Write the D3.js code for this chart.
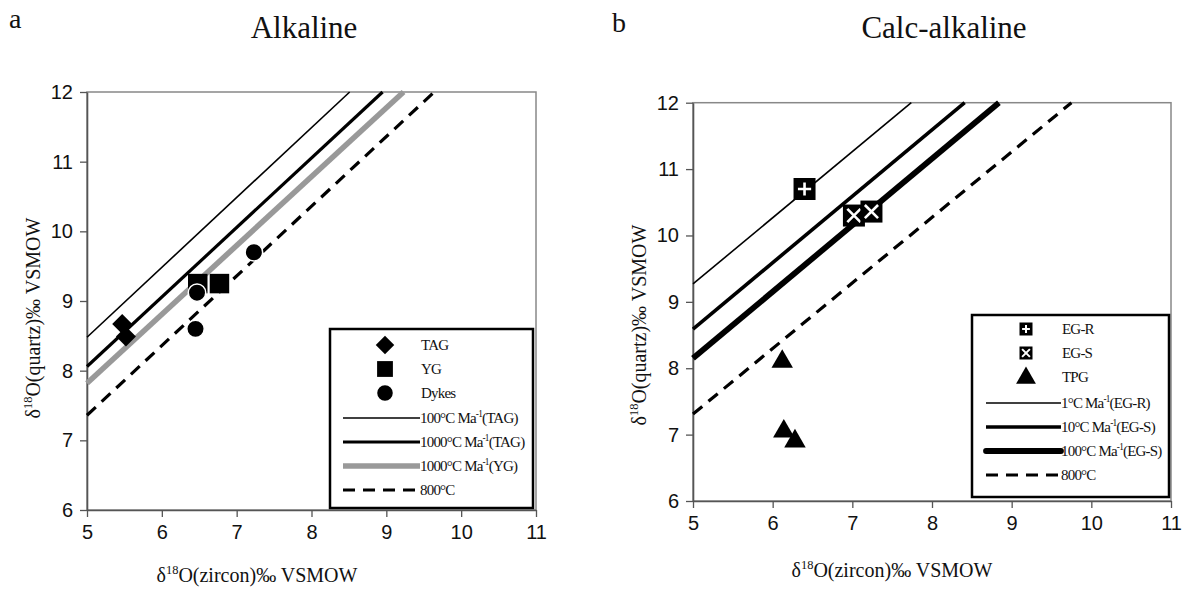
<!DOCTYPE html>
<html lang="en">
<head>
<meta charset="utf-8">
<title>d18O quartz vs zircon</title>
<script src="https://cdn.jsdelivr.net/npm/d3@7"></script>
<style>
    body{ margin:0; background:#fff; }
    svg{ display:block; }
    .tick text{ font-family:"Liberation Sans", Arial, sans-serif; font-size:20px; fill:#111; }
    .serif{ font-family:"Liberation Serif", "Times New Roman", serif; fill:#111; }
    .leg text{ font-family:"Liberation Serif", "Times New Roman", serif; font-size:15px; letter-spacing:-0.8px; fill:#111; }
</style>
</head>
<body>
<svg width="1186" height="592"></svg>
<script>
// ticks
const xTicks = [5, 6, 7, 8, 9, 10, 11]
const yTicks = [6, 7, 8, 9, 10, 11, 12]

// panel a - alkaline samples (zircon, quartz)
const tagPts = [[5.47, 8.67], [5.52, 8.49]]
const ygPts = [[6.48, 9.25], [6.77, 9.25]]
const dykePts = [[6.47, 9.12], [6.45, 8.60], [7.23, 9.70]]

// panel a - reference lines, two end points each
const alkLines = [
    {name: "100", tag: "TAG", pts: [[5, 8.48], [8.51, 12]], w: 1.6, col: "#000", dash: null},
    {name: "1000", tag: "TAG", pts: [[5, 8.06], [8.95, 12]], w: 3.2, col: "#000", dash: null},
    {name: "1000", tag: "YG", pts: [[5, 7.82], [9.23, 12]], w: 5.5, col: "#999", dash: null},
    {name: "800", tag: null, pts: [[5, 7.36], [9.64, 12]], w: 3.2, col: "#000", dash: "12,8"}
]

// panel b - calc-alkaline samples
const egrPts = [[6.40, 10.70]]
const egsPts = [[7.02, 10.30], [7.24, 10.36]]
const tpgPts = [[6.12, 8.10], [6.14, 7.05], [6.28, 6.90]]

const calcLines = [
    {name: "1", tag: "EG-R", pts: [[5, 9.27], [7.74, 12]], w: 1.6, col: "#000", dash: null},
    {name: "10", tag: "EG-S", pts: [[5, 8.59], [8.41, 12]], w: 3.6, col: "#000", dash: null},
    {name: "100", tag: "EG-S", pts: [[5, 8.15], [8.84, 12]], w: 5.8, col: "#000", dash: null},
    {name: "800", tag: null, pts: [[5, 7.31], [9.75, 12]], w: 3.2, col: "#000", dash: "12,8"}
]

const svg = d3.select("svg")

function panel(x0, x1, yTop, yBot) {
    const x = d3.scaleLinear().domain([5, 11]).range([x0, x1])
    const y = d3.scaleLinear().domain([6, 12]).range([yBot, yTop])
    const g = svg.append("g")
    // plot frame
    g.append("rect").attr("x", x0).attr("y", yTop).attr("width", x1 - x0).attr("height", yBot - yTop)
        .attr("fill", "none").attr("stroke", "#888").attr("stroke-width", 1.5)
    const ax = g.append("g").attr("transform", `translate(0,${yBot})`)
        .call(d3.axisBottom(x).tickValues(xTicks).tickFormat(d3.format("d")).tickSize(7).tickPadding(8).tickSizeOuter(0))
    const ay = g.append("g").attr("transform", `translate(${x0},0)`)
        .call(d3.axisLeft(y).tickValues(yTicks).tickFormat(d3.format("d")).tickSize(7).tickPadding(7).tickSizeOuter(0))
    ;[ax, ay].forEach(a => {
        a.select(".domain").attr("stroke", "#555").attr("stroke-width", 1.6)
        a.selectAll(".tick line").attr("stroke", "#555").attr("stroke-width", 1.3)
    })
    return {x, y, g}
}

function drawLines(p, lines) {
    const line = d3.line().x(d => p.x(d[0])).y(d => p.y(d[1]))
    p.g.selectAll(null).data(lines).enter().append("path")
        .attr("d", d => line(d.pts))
        .attr("fill", "none")
        .attr("stroke", d => d.col)
        .attr("stroke-width", d => d.w)
        .attr("stroke-dasharray", d => d.dash)
}

// text with superscript pieces at odd positions, e.g. ["δ","18","O..."]
function supLabel(g, parts, x, y, anchor, size) {
    const t = g.append("text").attr("x", x).attr("y", y).attr("text-anchor", anchor)
    const up = size * 0.4
    let raised = false
    parts.forEach((s, i) => {
        const sp = t.append("tspan").text(s)
        if (i % 2 === 1) {
            sp.attr("dy", -up).attr("font-size", size * 0.62)
            raised = true
        } else if (raised) {
            sp.attr("dy", up)
            raised = false
        }
    })
    return t
}

const sym = (type, size) => d3.symbol().type(type).size(size)()

function squareCross(g, cx, cy, s, kind) {
    g.append("rect").attr("x", cx - s / 2).attr("y", cy - s / 2).attr("width", s).attr("height", s).attr("fill", "#000")
    const a = s * 0.3
    const d = kind === "plus"
        ? `M${cx - a},${cy}L${cx + a},${cy}M${cx},${cy - a}L${cx},${cy + a}`
        : `M${cx - a},${cy - a}L${cx + a},${cy + a}M${cx - a},${cy + a}L${cx + a},${cy - a}`
    g.append("path").attr("d", d).attr("stroke", "#fff").attr("stroke-width", s > 16 ? 2.6 : 2).attr("fill", "none")
}

// ---------- panel a ----------
const pa = panel(87, 536, 92, 510)
drawLines(pa, alkLines)

pa.g.selectAll(null).data(tagPts).enter().append("path")
    .attr("d", sym(d3.symbolSquare, 200))
    .attr("transform", d => `translate(${pa.x(d[0])},${pa.y(d[1])}) rotate(45)`)
pa.g.selectAll(null).data(ygPts).enter().append("path")
    .attr("d", sym(d3.symbolSquare, 380))
    .attr("transform", d => `translate(${pa.x(d[0])},${pa.y(d[1])})`)
pa.g.selectAll(null).data(dykePts).enter().append("path")
    .attr("d", sym(d3.symbolCircle, 240))
    .attr("stroke", "#fff").attr("stroke-width", 1.5)
    .attr("transform", d => `translate(${pa.x(d[0])},${pa.y(d[1])})`)

// legend a
const la = svg.append("g").attr("class", "leg")
la.append("rect").attr("x", 330).attr("y", 329).attr("width", 203).attr("height", 179)
    .attr("fill", "#fff").attr("stroke", "#000").attr("stroke-width", 2.5)
const laRows = [345, 369, 393, 418, 442, 466, 490]
la.append("path").attr("d", sym(d3.symbolSquare, 170)).attr("transform", `translate(385,${laRows[0]}) rotate(45)`)
la.append("path").attr("d", sym(d3.symbolSquare, 250)).attr("transform", `translate(385,${laRows[1]})`)
la.append("path").attr("d", sym(d3.symbolCircle, 190)).attr("transform", `translate(385,${laRows[2]})`)
;["TAG", "YG", "Dykes"].forEach((s, i) => la.append("text").attr("x", 421).attr("y", laRows[i] + 5).text(s))
alkLines.forEach((d, i) => {
    const yy = laRows[i + 3]
    la.append("line").attr("x1", 343).attr("x2", 420).attr("y1", yy).attr("y2", yy)
        .attr("stroke", d.col).attr("stroke-width", d.w).attr("stroke-dasharray", d.dash)
    const parts = d.tag ? [d.name + "°C Ma", "-1", "(" + d.tag + ")"] : [d.name + "°C"]
    supLabel(la, parts, 420, yy + 5, "start", 15)
})

// ---------- panel b ----------
const pb = panel(693, 1171, 102.7, 501)
drawLines(pb, calcLines)

egrPts.forEach(d => squareCross(pb.g, pb.x(d[0]), pb.y(d[1]), 22, "plus"))
egsPts.forEach(d => squareCross(pb.g, pb.x(d[0]), pb.y(d[1]), 22, "cross"))
pb.g.selectAll(null).data(tpgPts).enter().append("path")
    .attr("d", sym(d3.symbolTriangle, 200))
    .attr("transform", d => `translate(${pb.x(d[0])},${pb.y(d[1])})`)

// legend b
const lb = svg.append("g").attr("class", "leg")
lb.append("rect").attr("x", 972).attr("y", 315).attr("width", 197).attr("height", 182)
    .attr("fill", "#fff").attr("stroke", "#000").attr("stroke-width", 2.5)
const lbRows = [329, 353, 377, 403, 427, 451, 475]
squareCross(lb, 1026, lbRows[0], 13, "plus")
squareCross(lb, 1026, lbRows[1], 13, "cross")
lb.append("path").attr("d", sym(d3.symbolTriangle, 170)).attr("transform", `translate(1026,${lbRows[2] + 1})`)
;["EG-R", "EG-S", "TPG"].forEach((s, i) => lb.append("text").attr("x", 1062).attr("y", lbRows[i] + 5).text(s))
calcLines.forEach((d, i) => {
    const yy = lbRows[i + 3]
    lb.append("line").attr("x1", 986).attr("x2", 1061).attr("y1", yy).attr("y2", yy)
        .attr("stroke", d.col).attr("stroke-width", d.w).attr("stroke-dasharray", d.dash)
        .attr("stroke-linecap", d.w > 5 ? "round" : null)
    const parts = d.tag ? [d.name + "°C Ma", "-1", "(" + d.tag + ")"] : [d.name + "°C"]
    supLabel(lb, parts, 1061, yy + 5, "start", 15)
})

// ---------- titles and axis titles ----------
const tg = svg.append("g").attr("class", "serif")
tg.append("text").attr("x", 9).attr("y", 28).attr("font-size", 28).text("a")
tg.append("text").attr("x", 304).attr("y", 38).attr("text-anchor", "middle").attr("font-size", 31).text("Alkaline")
tg.append("text").attr("x", 612).attr("y", 32).attr("font-size", 28).text("b")
tg.append("text").attr("x", 944).attr("y", 38).attr("text-anchor", "middle").attr("font-size", 31).text("Calc-alkaline")

const axT = svg.append("g").attr("class", "serif").attr("font-size", 20)
supLabel(axT, ["δ", "18", "O(zircon)‰ VSMOW"], 257, 582, "middle", 20)
supLabel(axT, ["δ", "18", "O(zircon)‰ VSMOW"], 892, 577, "middle", 20)
supLabel(axT.append("g").attr("transform", "translate(40,318) rotate(-90)"),
    ["δ", "18", "O(quartz)‰ VSMOW"], 0, 0, "middle", 20)
supLabel(axT.append("g").attr("transform", "translate(646,325) rotate(-90)"),
    ["δ", "18", "O(quartz)‰ VSMOW"], 0, 0, "middle", 20)
</script>
</body>
</html>
